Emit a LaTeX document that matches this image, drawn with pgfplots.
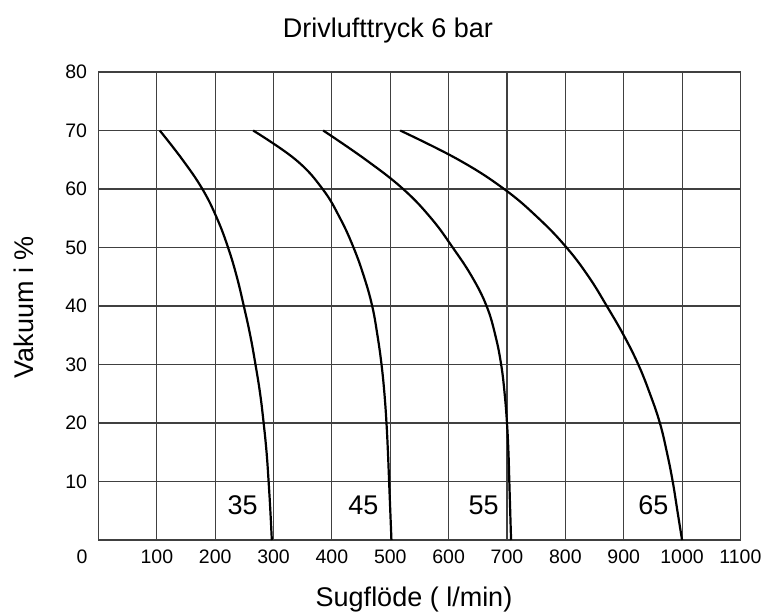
\documentclass[border=0pt]{standalone}
\usepackage{pgfplots}
\pgfplotsset{compat=1.18}
\usepackage{fontspec}
\setmainfont{Liberation Sans}
\begin{document}
\begin{tikzpicture}
\path[use as bounding box] (0,0) rectangle (763bp,612bp);
\begin{axis}[
  at={(98.5bp,72bp)}, anchor=south west,
  scale only axis, width=641.9bp, height=468bp,
  xmin=0, xmax=1100, ymin=0, ymax=80,
  xtick={100,200,...,1100}, ytick={10,20,...,80},
  grid=major, major grid style={black!75, line width=1.1bp},
  axis line style={black!75, line width=1.1bp},
  major tick length=0pt,
  tick label style={font=\fontsize{19.5bp}{22bp}\selectfont},
  /pgf/number format/assume math mode=true,
  /pgf/number format/1000 sep={},
  xticklabel style={yshift=-6bp},
  yticklabel style={xshift=-8bp},
  clip=false,
]
\addplot[black, line width=2.2bp, smooth, tension=0.7] coordinates {
 (105,70) (144,65) (178,60) (203,55) (222,50) (237,45) (249,40) (260,35) (269,30) (277,25) (283,20) (288,15) (291.5,10) (294.5,5) (297,0)};
\addplot[black, line width=2.2bp, smooth, tension=0.7] coordinates {
 (265,70) (338,65) (384,60) (414,55) (437,50) (455,45) (469,40) (478,35) (485,30) (490,25) (493.5,20) (496,15) (498,10) (500,5) (502,0)};
\addplot[black, line width=2.2bp, smooth, tension=0.7] coordinates {
 (385,70) (458,65) (522,60) (570,55) (607,50) (640,45) (665,40) (680,35) (690,30) (696,25) (700,20) (702.5,15) (704,10) (705.5,5) (707,0)};
\addplot[black, line width=2.2bp, smooth, tension=0.7] coordinates {
 (517,70) (617,65) (695,60) (754,55) (802,50) (840,45) (871,40) (900,35) (925,30) (945,25) (962,20) (974,15) (984,10) (992,5) (1000,0)};
\node[font=\fontsize{27bp}{30bp}\selectfont] at (axis cs:247,6) {35};
\node[font=\fontsize{27bp}{30bp}\selectfont] at (axis cs:454,6) {45};
\node[font=\fontsize{27bp}{30bp}\selectfont] at (axis cs:660,6) {55};
\node[font=\fontsize{27bp}{30bp}\selectfont] at (axis cs:951,6) {65};
\end{axis}
\node[font=\fontsize{19.5bp}{22bp}\selectfont] at (82bp,55bp) {0};
\node[font=\fontsize{27bp}{30bp}\selectfont, anchor=base] at (388bp,574bp) {Drivlufttryck 6 bar};
\node[font=\fontsize{27bp}{30bp}\selectfont, anchor=base] at (414bp,6bp) {Sugflöde ( l/min)};
\node[font=\fontsize{27bp}{30bp}\selectfont, anchor=base, rotate=90] at (33bp,305bp) {Vakuum i \%};
\end{tikzpicture}
\end{document}
